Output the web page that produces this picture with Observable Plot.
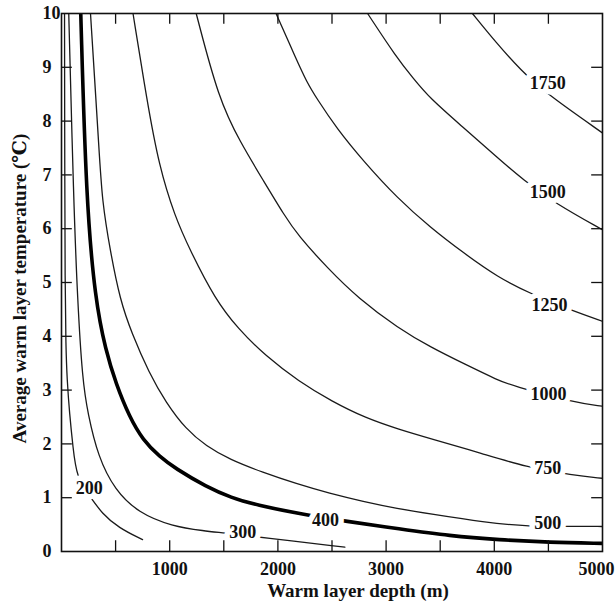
<!DOCTYPE html>
<html><head><meta charset="utf-8">
<script src="https://cdn.jsdelivr.net/npm/d3@7"></script>
<script src="https://cdn.jsdelivr.net/npm/@observablehq/plot@0.6"></script>
<style>
body{margin:0;background:#fff;}
#chart svg{display:block;}
</style>
</head><body><div id="chart"></div>
<script>
// Contour levels (the 400 line is drawn thick)
const levels = [200, 300, 400, 500, 750, 1000, 1250, 1500, 1750];

// Each contour as [warm layer depth (m), average warm layer temperature (°C)]
const c200 = [[28,10],[30,7],[33,5],[40,3.8],[52,3.18],[74,2.57],[106,1.94],[139,1.38],[264,1.02],[373,0.71],[527,0.44],[749,0.22]];
const c300 = [[67,10],[112,6.52],[148,4.67],[194,3.18],[243,2.57],[338,1.76],[494,1.14],[710,0.72],[1019,0.47],[1327,0.38],[1480,0.35],[1865,0.26],[2619,0.08]];
const c400 = [[178,10],[228,6.52],[312,4.67],[408,3.74],[503,3.12],[628,2.5],[753,2.07],[908,1.76],[1048,1.55],[1340,1.2],[1571,1.0],[1787,0.87],[2257,0.68],[2618,0.565],[3126,0.42],[3587,0.29],[4049,0.216],[4510,0.17],[5000,0.15]];
const c500 = [[268,10],[348,7.45],[375,6.52],[450,5.59],[542,4.67],[649,4.06],[809,3.32],[965,2.77],[1151,2.27],[1337,1.96],[1553,1.71],[1861,1.47],[2170,1.26],[2478,1.08],[2789,0.93],[3097,0.8],[3435,0.69],[3897,0.545],[4325,0.46],[4720,0.47],[5000,0.465]];
const c750 = [[661,10],[790,8.38],[902,7.16],[1047,6.23],[1188,5.6],[1419,4.69],[1636,4.13],[1884,3.64],[2193,3.16],[2499,2.79],[2811,2.48],[3118,2.27],[3424,2.09],[3887,1.82],[4293,1.57],[4725,1.42],[5000,1.36]];
const c1000 = [[1245,10],[1452,8.41],[1651,7.61],[1873,6.87],[2059,6.25],[2184,5.88],[2462,5.26],[2741,4.71],[3112,4.15],[3418,3.79],[3730,3.48],[4038,3.18],[4158,3.09],[4725,2.77],[5000,2.7]];
const c1250 = [[1983,10],[2172,9.14],[2266,8.73],[2359,8.42],[2545,7.86],[2793,7.25],[3103,6.57],[3410,6.02],[3722,5.54],[4031,5.1],[4337,4.79],[4739,4.46],[5000,4.28]];
const c1500 = [[2829,10],[3094,9.19],[3249,8.8],[3401,8.43],[3714,7.88],[4023,7.33],[4271,6.9],[4565,6.47],[5000,5.98]];
const c1750 = [[3798,10],[4016,9.46],[4248,8.94],[4481,8.51],[5000,7.78]];

// Inline contour labels
const labelLevels = [200, 300, 400, 500, 750, 1000, 1250, 1500, 1750];
const labelDepth  = [256, 1675, 2440, 4494, 4494, 4500, 4510, 4494, 4494];
const labelTemp   = [1.18, 0.36, 0.59, 0.52, 1.54, 2.93, 4.58, 6.67, 8.71];

// Axes
const xTickLabels = [1000, 2000, 3000, 4000];
const xLastTickLabel = [5000];
const xTicks = [500, 1000, 1500, 2000, 2500, 3000, 3500, 4000, 4500];
const yTickLabels = [0, 1, 2, 3, 4, 5, 6, 7, 8, 9, 10];
const yTicks = [1, 2, 3, 4, 5, 6, 7, 8, 9];
const xTitle = "Warm layer depth (m)";
const yTitle = "Average warm layer temperature (\u2103)";

const contours = [c200, c300, c400, c500, c750, c1000, c1250, c1500, c1750];
const rows = levels.flatMap((lv, i) => contours[i].map(([d, t]) => ({level: lv, depth: d, temp: t})));
const labels = labelLevels.map((lv, i) => ({level: lv, depth: labelDepth[i], temp: labelTemp[i]}));

const font = "'Liberation Serif', 'Times New Roman', 'DejaVu Serif', serif";
const tickText = {fontSize: 18, fontWeight: "bold", fill: "#111"};

const chart = Plot.plot({
  width: 615, height: 605,
  marginTop: 13, marginRight: 13, marginBottom: 54, marginLeft: 61,
  style: {fontFamily: font, background: "white", color: "#111"},
  x: {domain: [0, 5000], axis: null},
  y: {domain: [0, 10], axis: null},
  marks: [
    Plot.line(rows.filter(d => d.level !== 400), {x: "depth", y: "temp", z: "level", curve: "basis", stroke: "#1a1a1a", strokeWidth: 1.3, clip: true}),
    Plot.line(rows.filter(d => d.level === 400), {x: "depth", y: "temp", curve: "basis", stroke: "#000", strokeWidth: 3.6, clip: true}),
    Plot.text(labels, {x: "depth", y: "temp", text: d => String(d.level), fontSize: 18, fontWeight: "bold", fill: "#111", stroke: "white", strokeWidth: 11, strokeLinejoin: "round", paintOrder: "stroke"}),
    Plot.ruleX(xTicks, {x: d => d, y1: 0, y2: 0.2, stroke: "#111", strokeWidth: 1.3}),
    Plot.ruleX(xTicks, {x: d => d, y1: 10, y2: 9.8, stroke: "#111", strokeWidth: 1.3}),
    Plot.ruleY(yTicks, {y: d => d, x1: 0, x2: 100, stroke: "#111", strokeWidth: 1.3}),
    Plot.ruleY(yTicks, {y: d => d, x1: 5000, x2: 4900, stroke: "#111", strokeWidth: 1.3}),
    Plot.frame({stroke: "#111", strokeWidth: 1.6}),
    Plot.text(xTickLabels, {x: d => d, frameAnchor: "bottom", lineAnchor: "middle", textAnchor: "middle", dy: 17.5, text: d => String(d), ...tickText}),
    Plot.text(xLastTickLabel, {x: d => d, frameAnchor: "bottom", lineAnchor: "middle", textAnchor: "end", dx: 12, dy: 17.5, text: d => String(d), ...tickText}),
    Plot.text(yTickLabels, {y: d => d, frameAnchor: "left", lineAnchor: "middle", textAnchor: "start", dx: -19, text: d => String(d), ...tickText}),
    Plot.text([xTitle], {frameAnchor: "bottom", lineAnchor: "middle", textAnchor: "middle", dx: 26, dy: 39, fontSize: 19, fontWeight: "bold", fill: "#111"}),
    Plot.text([yTitle], {frameAnchor: "left", lineAnchor: "middle", textAnchor: "middle", dx: -42, dy: 6, rotate: -90, fontSize: 19, fontWeight: "bold", fill: "#111"})
  ]
});
document.getElementById("chart").append(chart);
</script>
</body></html>
